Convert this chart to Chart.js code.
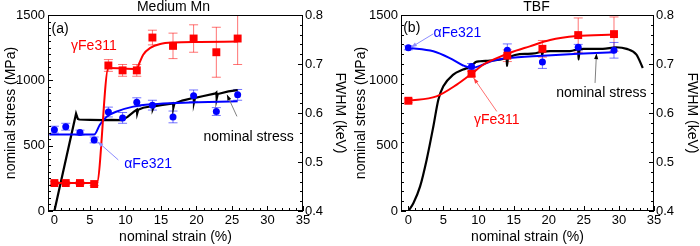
<!DOCTYPE html>
<html>
<head>
<meta charset="utf-8">
<script src="https://cdn.jsdelivr.net/npm/chart.js@4/dist/chart.umd.min.js"></script>
<style>
  html, body { margin: 0; padding: 0; background: #fff; }
  #wrap { position: relative; width: 700px; height: 246px; }
  .panel { position: absolute; top: 0; width: 350px; height: 246px; }
</style>
</head>
<body>
<div id="wrap">
  <div class="panel" style="left:0"><canvas id="chartA" width="350" height="246"></canvas></div>
  <div class="panel" style="left:350px"><canvas id="chartB" width="350" height="246"></canvas></div>
</div>
<script>
// ── shared tick labels ──
const xTicks = [0, 5, 10, 15, 20, 25, 30, 35];
const stressTicks = [0, 500, 1000, 1500];
const fwhmTicks = [0.4, 0.5, 0.6, 0.7, 0.8];

// ── (a) Medium Mn ──
const strainA = [0, 1.6, 3.6, 5.6, 7.6, 9.6, 11.6, 13.8, 16.7, 19.6, 22.8, 25.8];
const gammaA = [0.457, 0.457, 0.457, 0.455, 0.697, 0.687, 0.687, 0.754, 0.737, 0.752, 0.724, 0.752];
const gammaErrA = [0.003, 0.003, 0.003, 0.003, 0.012, 0.012, 0.012, 0.015, 0.026, 0.028, 0.051, 0.053];
const alphaA = [0.566, 0.572, 0.560, 0.545, 0.602, 0.590, 0.622, 0.616, 0.592, 0.635, 0.603, 0.637];
const alphaErrA = [0.007, 0.007, 0.005, 0.006, 0.010, 0.011, 0.009, 0.010, 0.012, 0.012, 0.008, 0.011];

const gammaFitStrainA = [0, 5.97, 7.6, 11.6, 11.97, 12.5, 13.5, 14.9, 16.8, 20.5, 25.8];
const gammaFitA = [0.457, 0.457, 0.692, 0.690, 0.702, 0.719, 0.733, 0.741, 0.744, 0.745, 0.746];
const alphaFitStrainA = [-0.7, 5.6, 6.4, 7.4, 8.8, 11.1, 13.9, 18.2, 25.8];
const alphaFitA = [0.556, 0.556, 0.576, 0.593, 0.603, 0.613, 0.618, 0.621, 0.624];

const stressStrainA = [0, 3.05, 3.3, 3.5, 5, 7, 8, 9.5, 10.3, 11.2, 11.6, 11.65, 11.8, 12.5, 13.5, 13.8,
  13.85, 14, 15, 16.5, 16.7, 16.75, 16.9, 18, 19.5, 19.6, 19.65, 19.8, 21, 22.7, 22.8, 22.85, 23, 24.5, 25.8];
const stressA = [0, 745, 705, 700, 697, 695, 697, 696, 720, 760, 775, 745, 775, 790, 800, 805,
  780, 800, 810, 822, 825, 790, 822, 845, 865, 868, 830, 865, 880, 900, 905, 860, 895, 915, 925];

// ── (b) TBF ──
const strainB = [0, 9.0, 14.1, 19.1, 24.2, 29.3];
const gammaB = [0.625, 0.680, 0.717, 0.731, 0.759, 0.761];
const gammaErrB = [0.004, 0.005, 0.012, 0.017, 0.035, 0.035];
const alphaB = [0.733, 0.695, 0.728, 0.704, 0.734, 0.728];
const alphaErrB = [0.004, 0.006, 0.013, 0.013, 0.006, 0.016];

const gammaFitStrainB = [0, 4.0, 6.9, 9.0, 10.7, 12.6, 14.5, 17.3, 20.2, 24.0, 29.3];
const gammaFitB = [0.625, 0.634, 0.658, 0.680, 0.699, 0.712, 0.723, 0.736, 0.749, 0.757, 0.760];
const alphaFitStrainB = [0, 3.56, 5.9, 7.8, 9.0, 10.7, 12.1, 14.1, 19.1, 24.2, 29.3];
const alphaFitB = [0.733, 0.726, 0.712, 0.697, 0.692, 0.699, 0.707, 0.712, 0.717, 0.721, 0.724];

const stressStrainB = [0, 0.71, 1.66, 2.6, 3.56, 4.27, 4.98, 6.4, 7.8, 9.0, 9.6, 10.2, 11.6, 13.9, 14.0,
  14.05, 14.2, 16.8, 18.9, 19.0, 19.05, 19.2, 20.2, 23, 24.1, 24.2, 24.25, 24.4, 24.9, 27.7, 29.6, 31.1, 32.5, 33.4];
const stressB = [0, 59, 186, 391, 647, 852, 954, 1044, 1082, 1110, 1140, 1146, 1151, 1170, 1175,
  1110, 1172, 1202, 1218, 1222, 1190, 1220, 1223, 1223, 1238, 1240, 1160, 1238, 1241, 1241, 1253, 1241, 1197, 1095];

const FONT = '"Liberation Sans", Arial, sans-serif';
const RED = '#ff0000', BLUE = '#0000ff';

const zip = (xs, ys) => xs.map((v, i) => ({ x: v, y: ys[i] }));

// frame, inward ticks, error bars, call-outs
const decor = {
  id: 'decor',
  beforeDatasetsDraw(chart, args, o) {
    const { ctx, chartArea: a, scales: { x, y1 } } = chart;
    ctx.save();
    ctx.beginPath();
    ctx.rect(a.left, a.top, a.right - a.left, a.bottom - a.top);
    ctx.clip();
    ctx.lineWidth = 1;
    o.errors.forEach(e => {
      ctx.strokeStyle = e.color;
      ctx.beginPath();
      e.xs.forEach((sv, i) => {
        const px = x.getPixelForValue(sv);
        const t = y1.getPixelForValue(e.ys[i] + e.err[i]);
        const b = y1.getPixelForValue(e.ys[i] - e.err[i]);
        ctx.moveTo(px, t); ctx.lineTo(px, b);
        ctx.moveTo(px - 4.5, t); ctx.lineTo(px + 4.5, t);
        ctx.moveTo(px - 4.5, b); ctx.lineTo(px + 4.5, b);
      });
      ctx.stroke();
    });
    ctx.restore();
  },
  afterDatasetsDraw(chart, args, o) {
    const { ctx, scales: { x, y } } = chart;
    ctx.save();
    o.arrows.forEach(r => {
      const x0 = x.getPixelForValue(r.from[0]), y0 = y.getPixelForValue(r.from[1]);
      const x1 = x.getPixelForValue(r.to[0]), y1 = y.getPixelForValue(r.to[1]);
      ctx.strokeStyle = r.color;
      ctx.lineWidth = 1;
      ctx.beginPath(); ctx.moveTo(x0, y0); ctx.lineTo(x1, y1); ctx.stroke();
      const ang = Math.atan2(y1 - y0, x1 - x0);
      ctx.fillStyle = r.head;
      ctx.beginPath();
      ctx.moveTo(x1, y1);
      ctx.lineTo(x1 - 6 * Math.cos(ang - 0.35), y1 - 6 * Math.sin(ang - 0.35));
      ctx.lineTo(x1 - 6 * Math.cos(ang + 0.35), y1 - 6 * Math.sin(ang + 0.35));
      ctx.closePath(); ctx.fill();
    });
    ctx.font = '14px ' + FONT;
    ctx.textAlign = 'center';
    ctx.textBaseline = 'middle';
    o.labels.forEach(l => {
      ctx.fillStyle = l.color;
      ctx.fillText(l.text, x.getPixelForValue(l.at[0]), y.getPixelForValue(l.at[1]));
    });
    ctx.restore();
  },
  afterDraw(chart, args, o) {
    const { ctx, chartArea: a, scales: { x, y, y1 } } = chart;
    ctx.save();
    ctx.strokeStyle = '#000';
    ctx.lineWidth = 1;
    ctx.strokeRect(Math.round(a.left) + 0.5, Math.round(a.top) + 0.5,
      Math.round(a.right - a.left) - 1, Math.round(a.bottom - a.top) - 1);
    ctx.beginPath();
    const n = (lo, hi, st) => Math.round((hi - lo) / st);
    for (let i = 0; i <= n(0, 35, o.minorX); i++) {
      const v = i * o.minorX;
      const p = Math.round(x.getPixelForValue(v)) + 0.5;
      const len = i % Math.round(5 / o.minorX) === 0 ? 5 : 3;
      ctx.moveTo(p, a.bottom); ctx.lineTo(p, a.bottom - len);
    }
    for (let i = 0; i <= n(0, 1500, o.minorY); i++) {
      const v = i * o.minorY;
      const p = Math.round(y.getPixelForValue(v)) + 0.5;
      const len = stressTicks.includes(v) ? 5 : 3;
      ctx.moveTo(a.left, p); ctx.lineTo(a.left + len, p);
    }
    for (let i = 0; i <= n(0.4, 0.8, 0.02); i++) {
      const v = 0.4 + i * 0.02;
      const p = Math.round(y1.getPixelForValue(v)) + 0.5;
      const len = i % 5 === 0 ? 5 : 3;
      ctx.moveTo(a.right, p); ctx.lineTo(a.right - len, p);
    }
    ctx.stroke();
    ctx.fillStyle = '#000';
    ctx.font = '14px ' + FONT;
    ctx.textAlign = 'center';
    ctx.textBaseline = 'alphabetic';
    ctx.fillText(o.title, (a.left + a.right) / 2 + o.titleShift, 11);
    ctx.restore();
  }
};

function makePanel(id, p) {
  const datasets = [
    { label: 'γFe311 fit', data: zip(p.gFitX, p.gFit), yAxisID: 'y1', borderColor: RED, borderWidth: 2,
      pointRadius: 0, cubicInterpolationMode: 'monotone', showLine: true },
    { label: 'γFe311', data: zip(p.xs, p.g), yAxisID: 'y1', showLine: false, pointStyle: 'rect',
      pointRadius: 5.6, backgroundColor: RED, borderColor: RED, borderWidth: 0 },
    { label: 'αFe321', data: zip(p.xs, p.a), yAxisID: 'y1', showLine: false, pointStyle: 'circle',
      pointRadius: 3.5, backgroundColor: BLUE, borderColor: BLUE, borderWidth: 0 },
    { label: 'αFe321 fit', data: zip(p.aFitX, p.aFit), yAxisID: 'y1', borderColor: BLUE, borderWidth: 2,
      pointRadius: 0, cubicInterpolationMode: 'monotone', showLine: true },
    { label: 'nominal stress', data: zip(p.sX, p.s), yAxisID: 'y', borderColor: '#000', borderWidth: 2.2,
      pointRadius: 0, cubicInterpolationMode: p.smoothStress ? 'monotone' : 'default', tension: 0, showLine: true }
  ];
  const tickFont = { size: 13, family: FONT };
  const titleFont = { size: 14, family: FONT };
  return new Chart(document.getElementById(id), {
    type: 'scatter',
    data: { datasets },
    options: {
      responsive: false,
      devicePixelRatio: 1,
      animation: false,
      layout: { padding: { top: 15, left: 0, right: 0, bottom: 0 } },
      plugins: {
        legend: { display: false },
        tooltip: { enabled: false },
        decor: p.decor
      },
      scales: {
        x: {
          type: 'linear', min: p.xMin, max: 35,
          afterBuildTicks: s => { s.ticks = xTicks.map(v => ({ value: v })); },
          afterFit: s => { s.height = 35; },
          grid: { display: false, drawTicks: false },
          border: { display: false },
          ticks: { color: '#000', font: tickFont, padding: 2, maxRotation: 0, callback: v => String(v) },
          title: { display: true, text: 'nominal strain (%)', color: '#000', font: titleFont, padding: 0 }
        },
        y: {
          type: 'linear', position: 'left', min: 0, max: 1500,
          afterBuildTicks: s => { s.ticks = stressTicks.map(v => ({ value: v })); },
          afterFit: s => { s.width = p.leftW; },
          grid: { display: false, drawTicks: false },
          border: { display: false },
          ticks: { color: '#000', font: tickFont, padding: 3, callback: v => String(v) },
          title: { display: true, text: 'nominal stress (MPa)', color: '#000', font: titleFont,
            padding: { top: 3, bottom: 0 } }
        },
        y1: {
          type: 'linear', position: 'right', min: 0.4, max: 0.8,
          afterBuildTicks: s => { s.ticks = fwhmTicks.map(v => ({ value: v })); },
          afterFit: s => { s.width = p.rightW; },
          grid: { display: false, drawTicks: false },
          border: { display: false },
          ticks: { color: '#000', font: tickFont, padding: 2, callback: v => v.toFixed(1) },
          title: { display: true, text: 'FWHM (keV)', color: '#000', font: titleFont,
            padding: { top: p.rightTitlePad, bottom: 0 } }
        }
      }
    },
    plugins: [decor]
  });
}

makePanel('chartA', {
  xs: strainA, g: gammaA, a: alphaA,
  gFitX: gammaFitStrainA, gFit: gammaFitA, aFitX: alphaFitStrainA, aFit: alphaFitA,
  sX: stressStrainA, s: stressA, smoothStress: false,
  xMin: -0.9, leftW: 48, rightW: 47, rightTitlePad: 2,
  decor: {
    title: 'Medium Mn', titleShift: -2, minorX: 1, minorY: 50,
    errors: [
      { xs: strainA, ys: gammaA, err: gammaErrA, color: 'rgba(255,0,0,0.55)' },
      { xs: strainA, ys: alphaA, err: alphaErrA, color: 'rgba(0,0,255,0.55)' }
    ],
    arrows: [
      { from: [9.0, 391], to: [6.1, 530], color: '#8c8cff', head: '#8c8cff' },
      { from: [25.7, 724], to: [24.3, 890], color: '#808080', head: '#000' }
    ],
    labels: [
      { text: '(a)', at: [0.8, 1389], color: '#000' },
      { text: 'γFe311', at: [5.56, 1261], color: RED },
      { text: 'αFe321', at: [13.2, 361], color: BLUE },
      { text: 'nominal stress', at: [27.35, 568], color: '#000' }
    ]
  }
});

makePanel('chartB', {
  xs: strainB, g: gammaB, a: alphaB,
  gFitX: gammaFitStrainB, gFit: gammaFitB, aFitX: alphaFitStrainB, aFit: alphaFitB,
  sX: stressStrainB, s: stressB, smoothStress: true,
  xMin: -1.05, leftW: 51, rightW: 46, rightTitlePad: 0,
  decor: {
    title: 'TBF', titleShift: 9, minorX: 1, minorY: 75,
    errors: [
      { xs: strainB, ys: gammaB, err: gammaErrB, color: 'rgba(255,0,0,0.55)' },
      { xs: strainB, ys: alphaB, err: alphaErrB, color: 'rgba(0,0,255,0.55)' }
    ],
    arrows: [
      { from: [3.56, 1356], to: [0.4, 1253], color: '#8c8cff', head: '#8c8cff' },
      { from: [12.6, 762], to: [9.3, 1018], color: '#ff7070', head: '#ff4040' },
      { from: [26.6, 980], to: [26.8, 1205], color: '#808080', head: '#000' }
    ],
    labels: [
      { text: '(b)', at: [0.48, 1402], color: '#000' },
      { text: 'αFe321', at: [7.0, 1364], color: BLUE },
      { text: 'γFe311', at: [12.6, 698], color: RED },
      { text: 'nominal stress', at: [27.5, 903], color: '#000' }
    ]
  }
});
</script>
</body>
</html>
